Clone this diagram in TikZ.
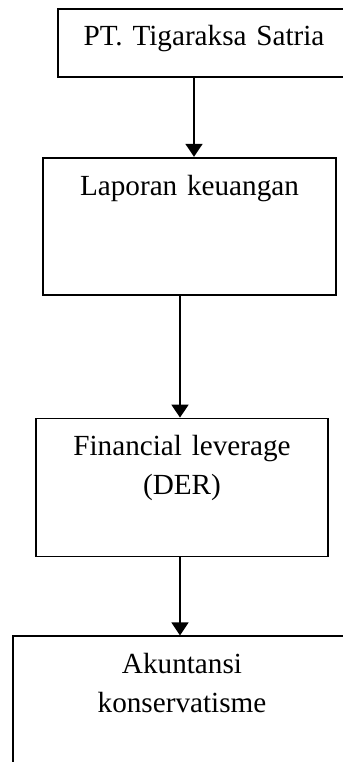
\documentclass[tikz,border=0pt]{standalone}
\usepackage{fontspec}
\setmainfont{Liberation Serif}
\usetikzlibrary{arrows.meta, positioning}

\begin{document}
\begin{tikzpicture}[node distance=39.5pt]
\tikzstyle{block} = [rectangle, draw, line width=0.9pt, inner sep=0pt, text width=146pt, align=center, font=\fontsize{14.6}{19.5}\selectfont]
\tikzstyle{line} = [draw, line width=0.9pt, -{Triangle[length=6.5pt,width=8.5pt]}]

\useasboundingbox (0,0) rectangle (171.5pt,-381pt);
\clip (0,0) rectangle (171.5pt,-381pt);

\node [block, anchor=north, text height=18.5pt, text depth=15.5pt] (perusahaan) at (102pt,-4pt) {PT. Tigaraksa Satria};
\node [block, below=of perusahaan, xshift=-7.25pt, text width=146.5pt, text height=19pt, text depth=49.5pt] (laporan) {Laporan keuangan};
\node [block, below=61pt of laporan, xshift=-3.75pt, text height=18.5pt, text depth=50.5pt] (leverage) {Financial leverage\\(DER)};
\node [block, below=39pt of leverage, text width=169pt, text height=18.5pt, text depth=80pt] (konservatisme) {Akuntansi\\konservatisme};

\path [line] ([xshift=-5pt]perusahaan.south) -- ([xshift=-5pt]perusahaan.south |- laporan.north);
\path [line] ([xshift=-4.75pt]laporan.south) -- ([xshift=-4.75pt]laporan.south |- leverage.north);
\path [line] ([xshift=-1pt]leverage.south) -- ([xshift=-1pt]leverage.south |- konservatisme.north);

\end{tikzpicture}
\end{document}
